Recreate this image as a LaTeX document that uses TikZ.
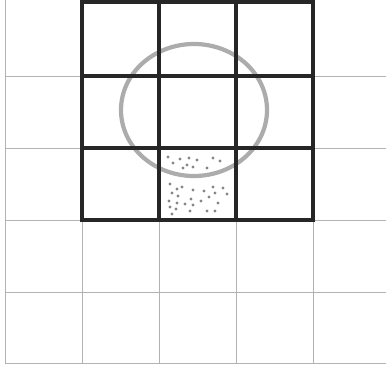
\documentclass[tikz,border=0pt]{standalone}
\usepackage{tikz}
\tikzset{%
	thingrid/.style = { gray!60, line width=1pt },
	thickgrid/.style = { black!85, line width=3.4pt, line cap=rect },
	ring/.style = { gray!65, line width=4.2pt },
	grain/.style = { fill=gray!95, draw=none }
}
\begin{document}
\begin{tikzpicture}[x=1pt, y=-1pt]
	\useasboundingbox (0,0) rectangle (386,365);
	% feines Raster
	\foreach \x in {5,82,159,236,313} \draw[thingrid] (\x,0) -- (\x,364);
	\foreach \y in {76,148,220,292,363} \draw[thingrid] (5,\y) -- (386,\y);
	% Kreis
	\draw[ring] (194,110) ellipse [x radius=73, y radius=66];
	% 3x3 Block
	\draw[thickgrid] (82,2) rectangle (313,220);
	\foreach \x in {159,236} \draw[thickgrid] (\x,2) -- (\x,220);
	\foreach \y in {76,148} \draw[thickgrid] (82,\y) -- (313,\y);
	% Punkte im mittleren Feld
	\foreach \p in {(168,157),(173,163),(180,159),(183,168),(189,158),(187,165),(193,167),(197,160),(207,168),(213,158),(220,161),
		(170,184),(177,189),(182,187),(172,193),(178,196),(193,190),(204,191),(213,187),(223,188),(191,199),(201,201),(209,197),(215,193),(227,194),
		(169,201),(177,203),(185,204),(193,205),(218,203),(170,207),(176,209),(190,211),(207,211),(215,211),(172,214)}
		\fill[grain] \p circle (1.6);
\end{tikzpicture}
\end{document}
